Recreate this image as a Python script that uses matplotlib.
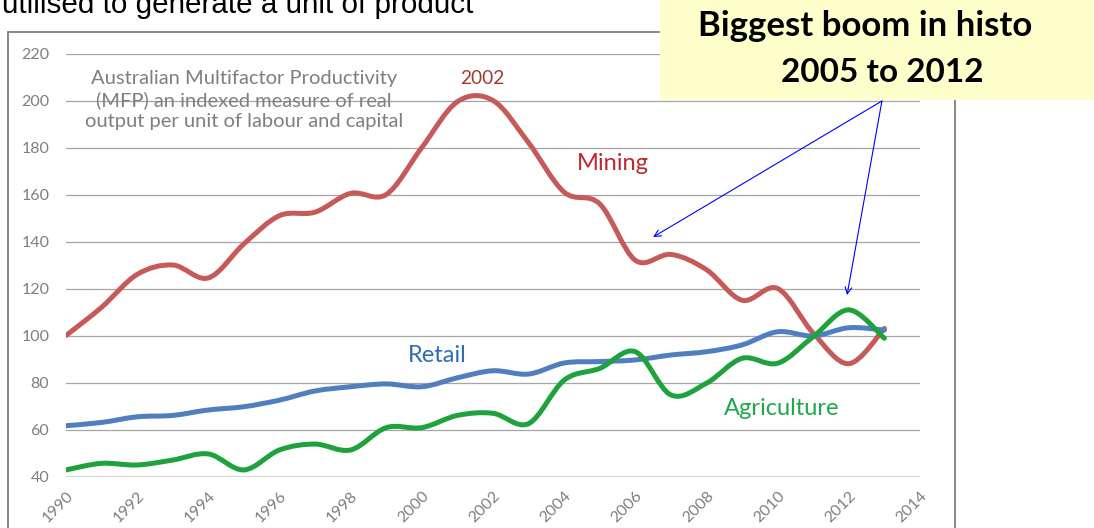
import matplotlib
matplotlib.use("Agg")
import matplotlib.pyplot as plt
import numpy as np
from matplotlib.path import Path
from matplotlib.patches import PathPatch, Rectangle

# data (index values, 1990 .. 2013)
years = list(range(1990, 2014))
mining = [100, 112, 126, 130, 124.5, 139, 151, 152.5, 160.5, 160,
          180, 199.5, 200, 182, 161, 156, 132, 134.5, 128, 115,
          120, 101, 88, 103]
retail = [61.6, 63, 65.4, 66, 68.3, 69.7, 72.5, 76.4, 78.2, 79.4,
          78.2, 82, 85, 83.6, 88.3, 88.9, 89.6, 91.7, 93.1, 96,
          101.6, 99.8, 103.3, 102.3]
agriculture = [42.8, 45.6, 44.9, 47, 49.6, 42.8, 51.3, 53.8, 51.3, 60.8,
               60.8, 66, 66.9, 62.5, 81, 86, 93.1, 74.7, 79.7, 90.3,
               88.2, 99.5, 110.9, 98.8]
y_ticks = list(range(40, 221, 20))
x_ticks = list(range(1990, 2015, 2))

W, H = 1094, 528
SANS = ["Lato", "DejaVu Sans"]


def smooth_path(xs, ys):
    # Excel-style smoothed line: cubic Bezier segments through every point
    p = np.column_stack([xs, ys]).astype(float)
    p = np.vstack([p[0], p, p[-1]])
    verts = [p[1]]
    codes = [Path.MOVETO]
    for i in range(1, len(p) - 2):
        c1 = p[i] + (p[i + 1] - p[i - 1]) / 6.0
        c2 = p[i + 1] - (p[i + 2] - p[i]) / 6.0
        verts += [c1, c2, p[i + 1]]
        codes += [Path.CURVE4] * 3
    return Path(verts, codes)


fig = plt.figure(figsize=(W / 100, H / 100), dpi=100)
ax = fig.add_axes([66 / W, 1 - 476.5 / H, (920 - 66) / W, (476.5 - 53.5) / H])
ax.set_xlim(1990, 2014)
ax.set_ylim(40, 220)

for v in y_ticks[1:]:
    ax.axhline(v, color="#a6a6a6", lw=0.9, zorder=1)
ax.axhline(40, color="#d9d9d9", lw=1.6, zorder=1)

for vals, col in [(mining, "#c65a58"), (retail, "#4f7fbf"), (agriculture, "#1ea23c")]:
    ax.add_patch(PathPatch(smooth_path(years, vals), fill=False, edgecolor=col,
                           lw=3.6, capstyle="round", joinstyle="round", zorder=3))

for s in ax.spines.values():
    s.set_visible(False)
ax.tick_params(length=0, colors="#7f7f7f")
ax.set_yticks(y_ticks)
ax.tick_params(axis="y", pad=12, labelsize=11.5)
ax.set_xticks(x_ticks)
ax.set_xticklabels([str(x) for x in x_ticks], rotation=45, ha="right",
                   va="top", rotation_mode="anchor")
ax.tick_params(axis="x", pad=9, labelsize=11.5)
for lab in ax.get_xticklabels() + ax.get_yticklabels():
    lab.set_family(SANS)

# text labels inside the chart
ax.text(1995.0, 200.3, "Australian Multifactor Productivity\n(MFP) an indexed measure of real\n"
        "output per unit of labour and capital", ha="center", va="center",
        color="#7f7f7f", fontsize=14.5, family=SANS, linespacing=1.28)
ax.text(2001.7, 209.5, "2002", ha="center", va="center", color="#a03a30", fontsize=13.8, family=SANS)
ax.text(2005.37, 173.4, "Mining", ha="center", va="center", color="#c0282d", fontsize=17, family=SANS)
ax.text(2000.43, 91.3, "Retail", ha="center", va="center", color="#2e6db4", fontsize=17, family=SANS)
ax.text(2010.1, 69.1, "Agriculture", ha="center", va="center", color="#1ea84a", fontsize=17, family=SANS)

# slide title (cut off at the top) and chart frame
fig.text(2 / W, 1 - 13 / H, "utilised to generate a unit of product", ha="left", va="baseline",
         fontsize=21.3, family=["Liberation Sans", "DejaVu Sans"], color="black")
fig.patches.append(Rectangle((8 / W, -0.05), (955 - 8) / W, 1 - 32 / H + 0.05,
                             transform=fig.transFigure, fill=False,
                             edgecolor="#7f7f7f", lw=1.3, zorder=0))

# yellow callout
fig.patches.append(Rectangle((660 / W, 1 - 100 / H), (W - 660) / W, 100 / H + 0.02,
                             transform=fig.transFigure, facecolor="#ffffcc",
                             edgecolor="none", zorder=5))
fig.text(865 / W, 1 - 26 / H, "Biggest boom in histo", ha="center", va="center",
         fontsize=25, fontweight="bold", family=SANS, zorder=6)
fig.text(882 / W, 1 - 72 / H, "2005 to 2012", ha="center", va="center",
         fontsize=24, fontweight="bold", family=SANS, zorder=6)

start = (2012.93, 199.8)
for tip in [(2006.5, 141.9), (2011.95, 117.2)]:
    ax.annotate("", xy=tip, xytext=start, annotation_clip=False,
                arrowprops=dict(arrowstyle="->", color="blue", lw=0.8,
                                shrinkA=0, shrinkB=0, mutation_scale=12), zorder=7)

fig.savefig("out.png", dpi=100)
